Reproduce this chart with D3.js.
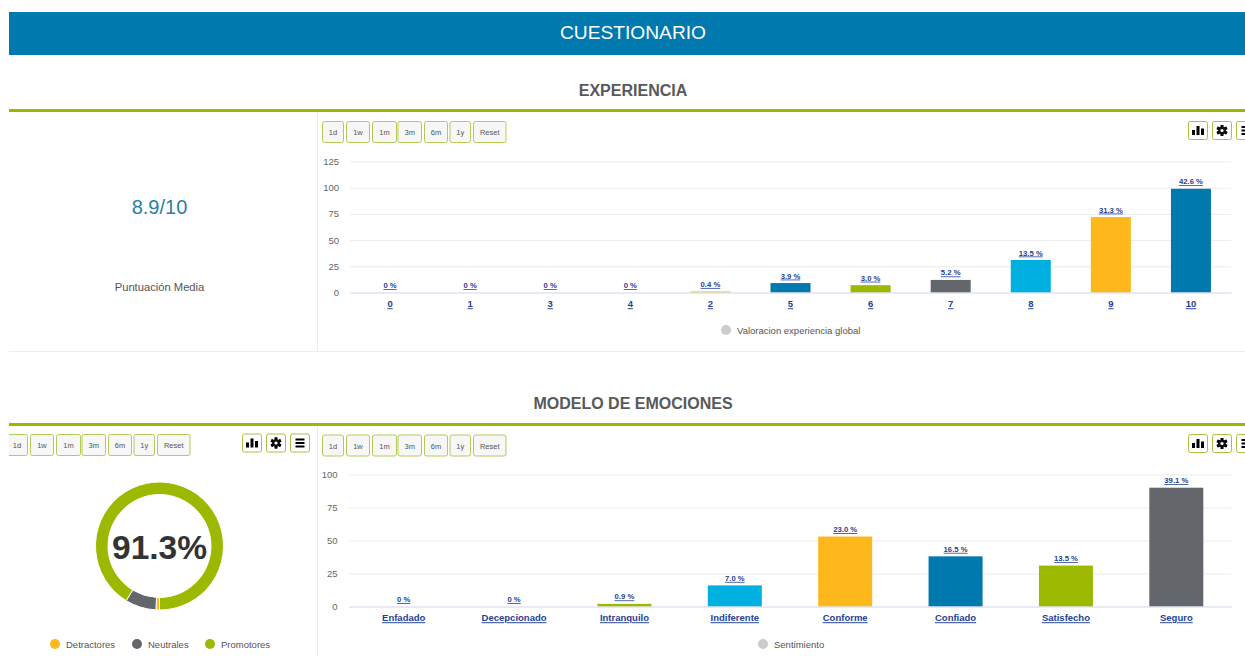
<!DOCTYPE html>
<html>
<head>
<meta charset="utf-8">
<title>Cuestionario</title>
<script src="https://cdn.jsdelivr.net/npm/d3@7/dist/d3.min.js"></script>
<style>
html, body { margin: 0; padding: 0; background: #fff; overflow: hidden; }
svg { display: block; font-family: "Liberation Sans", Arial, sans-serif; }
.grid line { stroke: #ececec; }
.grid .domain { display: none; }
.yaxis text { fill: #666; font-size: 9.5px; }
.yaxis line, .yaxis .domain { display: none; }
.xaxis .domain { stroke: #ccd6eb; }
.xaxis line { display: none; }
.xaxis text { fill: #1f3f94; font-size: 9.5px; font-weight: bold; text-decoration: underline; }
.lbl { fill: #1f3f94; font-size: 7.7px; font-weight: bold; text-decoration: underline; text-anchor: middle; }
.btn rect { fill: #f7f7f7; stroke: #b5cb55; rx: 2px; }
.btn text { fill: #555; font-size: 7.5px; text-anchor: middle; }
.ico rect.box { fill: #fff; stroke: #a9c23f; }
.leg { fill: #555; font-size: 9.5px; }
</style>
</head>
<body>
<script>
// top chart
var expCats = ['0', '1', '3', '4', '2', '5', '6', '7', '8', '9', '10'];
var expVals = [0, 0, 0, 0, 1, 9, 7, 12, 31, 72, 99];
var expPct = ['0 %', '0 %', '0 %', '0 %', '0.4 %', '3.9 %', '3.0 %', '5.2 %', '13.5 %', '31.3 %', '42.6 %'];
var expTicks = [0, 25, 50, 75, 100, 125];

// emotions chart
var emoCats = ['Enfadado', 'Decepcionado', 'Intranquilo', 'Indiferente', 'Conforme', 'Confiado', 'Satisfecho', 'Seguro'];
var emoVals = [0, 0, 2, 16, 53, 38, 31, 90];
var emoPct = ['0 %', '0 %', '0.9 %', '7.0 %', '23.0 %', '16.5 %', '13.5 %', '39.1 %'];
var emoTicks = [0, 25, 50, 75, 100];

// donut
var npsCats = ['Detractores', 'Neutrales', 'Promotores'];
var npsVals = [0.9, 7.8, 91.3];

var yellow = '#ffb81c', grey = '#63666a', green = '#9db800', blue = '#0079ae', cyan = '#00b0e0';
var expColors = [yellow, yellow, yellow, yellow, yellow, blue, green, grey, cyan, yellow, blue];
var emoColors = [blue, blue, green, cyan, yellow, blue, green, grey];
var npsColors = [yellow, grey, green];
var rangeBtns = ['1d', '1w', '1m', '3m', '6m', '1y', 'Reset'];
var btnOffsets = [0, 24, 50, 75.5, 102, 127.5, 151];
var btnWidths = [21, 23, 24, 23.5, 23, 20.5, 32.5];

var svg = d3.select('body').append('svg').attr('width', 1245).attr('height', 656);

// header band and section titles
svg.append('rect').attr('x', 9).attr('y', 12).attr('width', 1236).attr('height', 43).attr('fill', blue);
svg.append('text').attr('x', 633).attr('y', 38.5).attr('text-anchor', 'middle')
	.attr('fill', '#fff').attr('font-size', 19.2).text('CUESTIONARIO');

function section(title, yText, yRule) {
	svg.append('text').attr('x', 633).attr('y', yText).attr('text-anchor', 'middle')
		.attr('fill', '#58595b').attr('font-size', 16).attr('font-weight', 'bold').text(title);
	svg.append('rect').attr('x', 9).attr('y', yRule).attr('width', 1236).attr('height', 3).attr('fill', green);
}
section('EXPERIENCIA', 95.5, 109);
section('MODELO DE EMOCIONES', 408.5, 423);

// panel separators
svg.append('line').attr('x1', 317.5).attr('x2', 317.5).attr('y1', 112).attr('y2', 351).attr('stroke', '#ececec');
svg.append('line').attr('x1', 317.5).attr('x2', 317.5).attr('y1', 426).attr('y2', 656).attr('stroke', '#ececec');
svg.append('line').attr('x1', 9).attr('x2', 1245).attr('y1', 351.5).attr('y2', 351.5).attr('stroke', '#ececec');

// average score panel
svg.append('text').attr('x', 159.5).attr('y', 214).attr('text-anchor', 'middle')
	.attr('fill', '#2a7fa8').attr('font-size', 20).text('8.9/10');
svg.append('text').attr('x', 159.5).attr('y', 291).attr('text-anchor', 'middle')
	.attr('fill', '#555').attr('font-size', 11.2).text('Puntuación Media');

function rangeButtons(x0, y0) {
	rangeBtns.forEach(function(d, i) {
		var x = x0 + btnOffsets[i];
		var g = svg.append('g').attr('class', 'btn');
		g.append('rect').attr('x', x + 0.5).attr('y', y0 + 0.5).attr('width', btnWidths[i]).attr('height', 21);
		g.append('text').attr('x', x + btnWidths[i] / 2 + 0.5).attr('y', y0 + 14).text(d);
	});
}

function iconButtons(x0, y0) {
	var gBars = svg.append('g').attr('class', 'ico').attr('transform', 'translate(' + x0 + ',' + y0 + ')');
	gBars.append('rect').attr('class', 'box').attr('x', 0.5).attr('y', 0.5).attr('width', 19).attr('height', 18).attr('rx', 2);
	gBars.append('rect').attr('x', 4).attr('y', 9).attr('width', 3).attr('height', 5);
	gBars.append('rect').attr('x', 8.5).attr('y', 5).attr('width', 3).attr('height', 9);
	gBars.append('rect').attr('x', 13).attr('y', 7.5).attr('width', 3).attr('height', 6.5);

	var gGear = svg.append('g').attr('class', 'ico').attr('transform', 'translate(' + (x0 + 24) + ',' + y0 + ')');
	gGear.append('rect').attr('class', 'box').attr('x', 0.5).attr('y', 0.5).attr('width', 19).attr('height', 18).attr('rx', 2);
	d3.range(6).forEach(function(i) {
		gGear.append('rect').attr('x', 8.7).attr('y', 4).attr('width', 2.6).attr('height', 11)
			.attr('transform', 'rotate(' + i * 60 + ' 10 9.5)');
	});
	gGear.append('circle').attr('cx', 10).attr('cy', 9.5).attr('r', 3.8).attr('fill', '#111');
	gGear.append('circle').attr('cx', 10).attr('cy', 9.5).attr('r', 1.6).attr('fill', '#fff');

	var gMenu = svg.append('g').attr('class', 'ico').attr('transform', 'translate(' + (x0 + 48) + ',' + y0 + ')');
	gMenu.append('rect').attr('class', 'box').attr('x', 0.5).attr('y', 0.5).attr('width', 19).attr('height', 18).attr('rx', 2);
	[5, 8.5, 12].forEach(function(y) {
		gMenu.append('rect').attr('x', 5.5).attr('y', y).attr('width', 9).attr('height', 2);
	});
}

function barChart(o) {
	var x = d3.scaleBand().domain(o.cats).range([o.x0, o.x1]);
	var y = d3.scaleLinear().domain([0, d3.max(o.ticks)]).range([o.y0, o.y1]);
	svg.append('g').attr('class', 'grid')
		.attr('transform', 'translate(' + o.x0 + ',0)')
		.call(d3.axisLeft(y).tickValues(o.ticks.slice(1)).tickSize(-(o.x1 - o.x0)).tickFormat(''));
	svg.append('g').attr('class', 'yaxis')
		.attr('transform', 'translate(' + (o.x0 - 11) + ',0)')
		.call(d3.axisLeft(y).tickValues(o.ticks).tickSize(0).tickPadding(0));
	svg.selectAll(null).data(o.vals).enter().append('rect')
		.attr('x', function(d, i) { return x(o.cats[i]) + (x.bandwidth() - o.barW) / 2; })
		.attr('y', function(d) { return y(d); })
		.attr('width', o.barW)
		.attr('height', function(d) { return y(0) - y(d); })
		.attr('fill', function(d, i) { return o.colors[i]; });
	svg.selectAll(null).data(o.pct).enter().append('text')
		.attr('class', 'lbl')
		.attr('x', function(d, i) { return x(o.cats[i]) + x.bandwidth() / 2; })
		.attr('y', function(d, i) { return y(o.vals[i]) - 4.5; })
		.text(function(d) { return d; });
	svg.append('g').attr('class', 'xaxis')
		.attr('transform', 'translate(0,' + o.y0 + ')')
		.call(d3.axisBottom(x).tickSize(0).tickPadding(8));
	svg.append('circle').attr('cx', o.legX).attr('cy', o.legY).attr('r', 5).attr('fill', '#ccc');
	svg.append('text').attr('class', 'leg').attr('x', o.legX + 11).attr('y', o.legY + 3.5).text(o.legend);
}

rangeButtons(322, 121);
iconButtons(1188, 121);
barChart({
	cats: expCats, vals: expVals, pct: expPct, ticks: expTicks, colors: expColors,
	x0: 350, x1: 1231, y0: 292.5, y1: 161.5, barW: 40,
	legX: 726, legY: 330, legend: 'Valoracion experiencia global'
});

rangeButtons(322, 434.5);
iconButtons(1188, 434);
barChart({
	cats: emoCats, vals: emoVals, pct: emoPct, ticks: emoTicks, colors: emoColors,
	x0: 348.5, x1: 1231.5, y0: 606.5, y1: 474.5, barW: 54,
	legX: 763, legY: 644, legend: 'Sentimiento'
});

// donut panel, the first buttons run off the panel's left edge
var left = svg.append('g').attr('class', 'donut').attr('transform', 'translate(159.5,546)');
var pie = d3.pie().sort(null).startAngle(Math.PI).endAngle(3 * Math.PI);
var arc = d3.arc().innerRadius(51.5).outerRadius(64);
left.selectAll('path').data(pie(npsVals)).enter().append('path')
	.attr('d', arc)
	.attr('fill', function(d, i) { return npsColors[i]; })
	.attr('stroke', '#fff').attr('stroke-width', 1);
left.append('text').attr('y', 12.5).attr('text-anchor', 'middle')
	.attr('fill', '#333').attr('font-size', 33.5).attr('font-weight', 'bold').text('91.3%');

rangeButtons(6, 434);
svg.append('rect').attr('x', 0).attr('y', 430).attr('width', 9).attr('height', 30).attr('fill', '#fff');
iconButtons(242, 433.5);

var legendX = d3.scaleOrdinal().domain(npsCats).range([55, 137, 210]);
npsCats.forEach(function(d, i) {
	svg.append('circle').attr('cx', legendX(d)).attr('cy', 644).attr('r', 5).attr('fill', npsColors[i]);
	svg.append('text').attr('class', 'leg').attr('x', legendX(d) + 11).attr('y', 647.5).text(d);
});
</script>
</body>
</html>
